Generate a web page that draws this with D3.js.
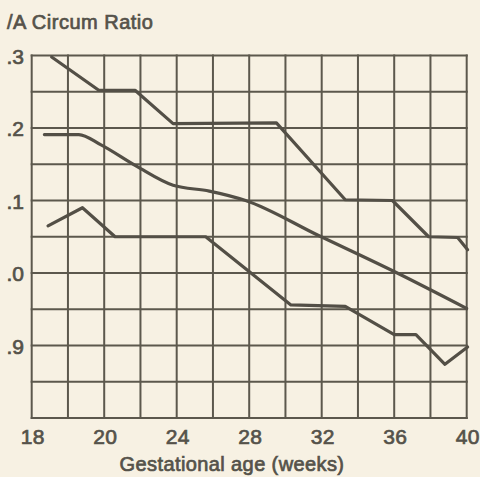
<!DOCTYPE html>
<html lang="en">
<head>
    <meta charset="UTF-8">
    <title>H/A Circum Ratio</title>
	<style>
		html, body { margin:0; padding:0; background:#f7f1e3; overflow:hidden; }
		#CHART { display:block; }
		#CHART text { font-family: "Liberation Sans", Arial, Helvetica, sans-serif; fill:#55524a; stroke:#55524a; stroke-width:0.7px; }
		#CHART .grid line { stroke:#5c584d; stroke-width:2px; }
		#CHART .curve { fill:none; stroke:#534f46; stroke-width:3.2px; stroke-linejoin:round; stroke-linecap:round; }
	</style>
</head>
<body>
	<svg id="CHART"></svg>

    <script src="https://cdnjs.cloudflare.com/ajax/libs/d3/7.8.5/d3.min.js"></script>
    <script>

    // ==================================================================
    // Data

    // x grid: one line every 2 weeks; first tick reads "18" on the original
    const xGrid = d3.range(16, 41, 2);
    const xTickValues = [16, 20, 24, 28, 32, 36, 40];
    const xTickLabels = ["18", "20", "24", "28", "32", "36", "40"];

    // y grid: one line every 0.05
    const yGrid = d3.range(0, 11).map(i => 0.8 + i * 0.05);
    const yTickValues = [1.3, 1.2, 1.1, 1.0, 0.9];
    const yTickLabels = [".3", ".2", ".1", ".0", ".9"];

    const upperWeeks = [17.1, 19.7, 21.7, 23.8, 29.5, 33.3, 35.9, 37.9, 39.5, 40.05];
    const upperRatio = [1.298, 1.252, 1.252, 1.206, 1.207, 1.101, 1.100, 1.050, 1.049, 1.032];

    const meanWeeks = [16.7, 18.6, 19.8, 21.8, 23.8, 25.8, 27.8, 31.8, 36.0, 40.0];
    const meanRatio = [1.191, 1.191, 1.177, 1.147, 1.121, 1.113, 1.100, 1.052, 1.002, 0.951];

    const lowerWeeks = [16.9, 18.8, 20.6, 25.6, 30.3, 33.3, 36.0, 37.2, 38.8, 40.05];
    const lowerRatio = [1.065, 1.090, 1.050, 1.050, 0.956, 0.954, 0.915, 0.915, 0.874, 0.898];

    const title = "/A Circum Ratio";
    const xTitle = "Gestational age (weeks)";

    // ==================================================================

    const width = 480;
    const height = 477;
    const plot = { left: 31.7, right: 466.7, top: 55.5, bottom: 418 };

    const svg = d3.select("#CHART")
        .attr("width", width)
        .attr("height", height)
        .attr("viewBox", [0, 0, width, height]);

    const x = d3.scaleLinear().domain([16, 40]).range([plot.left, plot.right]);
    const y = d3.scaleLinear().domain([0.8, 1.3]).range([plot.bottom, plot.top]);

    // grid
    const grid = svg.append("g").attr("class", "grid");

    grid.selectAll("line.v")
        .data(xGrid)
        .join("line")
        .attr("class", "v")
        .attr("x1", d => x(d)).attr("x2", d => x(d))
        .attr("y1", plot.top - 1).attr("y2", plot.bottom + 1);

    grid.selectAll("line.h")
        .data(yGrid)
        .join("line")
        .attr("class", "h")
        .attr("x1", plot.left - 1).attr("x2", plot.right + 1)
        .attr("y1", d => y(d)).attr("y2", d => y(d));

    // curves
    const series = [
        { weeks: upperWeeks, ratio: upperRatio, curve: d3.curveLinear },
        { weeks: meanWeeks, ratio: meanRatio, curve: d3.curveMonotoneX },
        { weeks: lowerWeeks, ratio: lowerRatio, curve: d3.curveLinear }
    ];

    svg.append("g")
        .selectAll("path")
        .data(series)
        .join("path")
        .attr("class", "curve")
        .attr("d", s => d3.line()
            .x((d, i) => x(d))
            .y((d, i) => y(s.ratio[i]))
            .curve(s.curve)(s.weeks));

    // x tick labels
    svg.append("g")
        .selectAll("text")
        .data(xTickValues)
        .join("text")
        .attr("x", d => x(d) + 1)
        .attr("y", 444)
        .attr("text-anchor", "middle")
        .style("font-size", "21px")
        .style("letter-spacing", "0.3px")
        .text((d, i) => xTickLabels[i]);

    // y tick labels
    svg.append("g")
        .selectAll("text")
        .data(yTickValues)
        .join("text")
        .attr("x", 24)
        .attr("y", d => y(d) + 8)
        .attr("text-anchor", "end")
        .style("font-size", "21px")
        .text((d, i) => yTickLabels[i]);

    // titles
    svg.append("text")
        .attr("x", 7)
        .attr("y", 29)
        .style("font-size", "20px")
        .style("letter-spacing", "0.5px")
        .text(title);

    svg.append("text")
        .attr("x", 232)
        .attr("y", 471)
        .attr("text-anchor", "middle")
        .style("font-size", "20px")
        .style("letter-spacing", "0.4px")
        .text(xTitle);

	</script>
</body>
</html>
